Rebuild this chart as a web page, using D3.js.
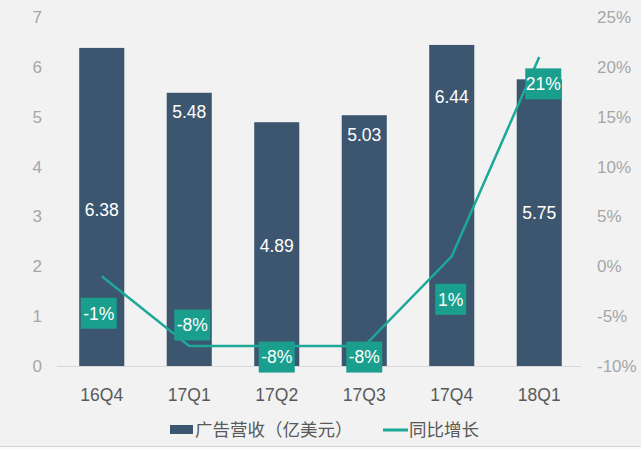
<!DOCTYPE html>
<html><head><meta charset="utf-8">
<script src="https://cdn.jsdelivr.net/npm/d3@7"></script>
<style>
html,body{margin:0;padding:0;background:#f2f2f2;}
svg{display:block;font-family:"Liberation Sans","Noto Sans CJK SC",sans-serif;}
</style></head>
<body><svg id="c" width="641" height="449"></svg>
<script>
const categories = ["16Q4","17Q1","17Q2","17Q3","17Q4","18Q1"];
const revenue = [6.38, 5.48, 4.89, 5.03, 6.44, 5.75];
const growth = [-1, -8, -8, -8, 1, 21];
const growthLabels = ["-1%","-8%","-8%","-8%","1%","21%"];
const leftTicks = [0,1,2,3,4,5,6,7];
const rightTicks = [-10,-5,0,5,10,15,20,25];
const legendNames = ["广告营收（亿美元）","同比增长"];

// label placement (in value units / pixel offsets), kept apart from data
const revLabelAt = [3.14, 5.11, 2.42, 4.63, 5.41, 3.08];
const boxDx = [-3, 3, 0, 0, -1, 4];
const boxDy = [37, -21, 11, 11, 43, 27];

const svg = d3.select("#c");
const BAR = "#3c5670", TEAL = "#1ea898", BOX = "#1a9e8d";

svg.append("rect").attr("width",641).attr("height",449).attr("fill","#f2f2f2");
svg.append("rect").attr("x",0).attr("y",446).attr("width",641).attr("height",3).attr("fill","#fafafa");
svg.append("line").attr("x1",0).attr("x2",641).attr("y1",446.5).attr("y2",446.5).attr("stroke","#d4d4d4");

const x = d3.scaleBand().domain(categories).range([58,583]).paddingInner(0.485).paddingOuter(0.2425);
const y = d3.scaleLinear().domain([0,7]).range([366,17]);
const y2 = d3.scaleLinear().domain([-10,25]).range([366,17]);

// left ticks
const la = svg.append("g").attr("transform","translate(42,0)")
  .call(d3.axisLeft(y).tickValues(leftTicks).tickSize(0).tickPadding(0).tickFormat(d3.format("d")));
la.select(".domain").remove();
la.selectAll("text").attr("fill","#a6a6a6").attr("font-size",17).attr("font-family","Liberation Sans, sans-serif");

// right ticks
const ra = svg.append("g").attr("transform","translate(597,0)")
  .call(d3.axisRight(y2).tickValues(rightTicks).tickSize(0).tickPadding(0).tickFormat(d=>d+"%"));
ra.select(".domain").remove();
ra.selectAll("text").attr("fill","#a6a6a6").attr("font-size",17).attr("font-family","Liberation Sans, sans-serif");

// baseline
svg.append("line").attr("x1",57).attr("x2",581).attr("y1",y(0)+0.5).attr("y2",y(0)+0.5).attr("stroke","#d9d9d9");

// bars
svg.append("g").selectAll("rect").data(categories).join("rect")
  .attr("x",d=>x(d)).attr("width",x.bandwidth())
  .attr("y",(d,i)=>y(revenue[i])).attr("height",(d,i)=>y(0)-y(revenue[i]))
  .attr("fill",BAR);

// bar value labels
svg.append("g").selectAll("text").data(categories).join("text")
  .attr("x",d=>x(d)+x.bandwidth()/2).attr("y",(d,i)=>y(revLabelAt[i]))
  .attr("dy","0.36em").attr("text-anchor","middle").attr("fill","#ffffff").attr("font-size",17.5)
  .text((d,i)=>revenue[i].toFixed(2));

// category axis
const ca = svg.append("g").attr("transform","translate(0,389)")
  .call(d3.axisBottom(x).tickSize(0).tickPadding(0));
ca.select(".domain").remove();
ca.selectAll("text").attr("fill","#595959").attr("font-size",17.5).attr("font-family","Liberation Sans, sans-serif");

// line
const line = d3.line().x((d,i)=>x(categories[i])+x.bandwidth()/2).y(d=>y2(d));
svg.append("path").datum(growth).attr("d",line).attr("fill","none").attr("stroke",TEAL).attr("stroke-width",2.5);

// growth boxes
const bg = svg.append("g").selectAll("g").data(categories).join("g")
  .attr("transform",(d,i)=>`translate(${x(d)+x.bandwidth()/2+boxDx[i]},${y2(growth[i])+boxDy[i]})`);
bg.append("rect").attr("x",(d,i)=>growthLabels[i].length>2?-18:-15.5).attr("y",-15.5)
  .attr("width",(d,i)=>growthLabels[i].length>2?36:31).attr("height",31).attr("fill",BOX);
bg.append("text").attr("text-anchor","middle").attr("dy","0.36em").attr("fill","#fff").attr("font-size",17.5)
  .text((d,i)=>growthLabels[i]);

// legend
const lg = svg.append("g");
lg.append("rect").attr("x",170).attr("y",425).attr("width",23).attr("height",9).attr("fill",BAR);
lg.append("text").attr("x",195).attr("y",430).attr("dy","0.36em").attr("fill","#595959").attr("font-size",17.5)
  .attr("font-family","Noto Sans CJK SC, sans-serif").text(legendNames[0]);
lg.append("line").attr("x1",383).attr("x2",408).attr("y1",430).attr("y2",430).attr("stroke",TEAL).attr("stroke-width",3);
lg.append("text").attr("x",409).attr("y",430).attr("dy","0.36em").attr("fill","#595959").attr("font-size",17.5)
  .attr("font-family","Noto Sans CJK SC, sans-serif").text(legendNames[1]);
</script></body></html>
